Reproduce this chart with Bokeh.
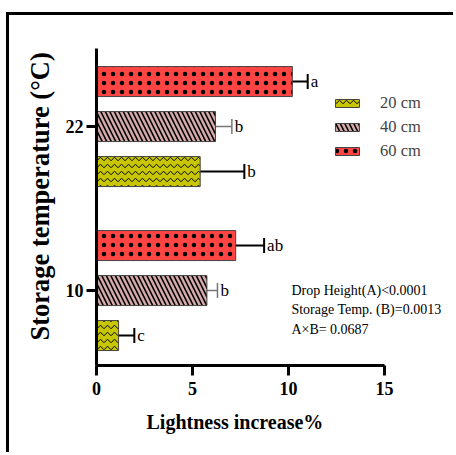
from bokeh.plotting import figure
from bokeh.models import (ColumnDataSource, Whisker, TeeHead, Legend, LegendItem,
                          FixedTicker, Label, Title)
from bokeh.transform import dodge
from bokeh.embed import file_html
from bokeh.resources import INLINE

# ---- data ----
temps = ["10", "22"]
group_pos = [0, 1]
heights = ["20 cm", "40 cm", "60 cm"]
mean_20 = [1.15, 5.4]
err_20 = [0.82, 2.3]
mean_40 = [5.75, 6.2]
err_40 = [0.55, 0.85]
mean_60 = [7.25, 10.2]
err_60 = [1.48, 0.8]
letters_20 = ["c", "b"]
letters_40 = ["b", "b"]
letters_60 = ["ab", "a"]
stats_lines = ["Drop Height(A)<0.0001", "Storage Temp. (B)=0.0013", "A\u00d7B= 0.0687"]
x_ticks = [0, 5, 10, 15]
x_title = "Lightness increase%"
y_title = "Storage temperature (\u00b0C)"

SERIF = "Liberation Serif"

# page offset of the canvas (outer frame drawn by CSS border)
OX, OY = 9, 15

p = figure(width=456 - OX, height=455 - OY, output_backend="svg", toolbar_location=None,
           x_range=(0, 18.75), y_range=(-0.457, 1.476),
           min_border_left=96 - OX, min_border_right=0, min_border_top=48 - OY,
           min_border_bottom=90)
p.styles = {"margin-left": "6px", "margin-top": "12px",
            "border-left": "3px solid black", "border-top": "3px solid black"}
p.outline_line_color = None
p.grid.grid_line_color = None
p.background_fill_color = "white"
p.border_fill_color = "white"

styles = {
    "20 cm": dict(mean=mean_20, err=err_20, letters=letters_20, off=-0.2744,
                  color="#c8c600", hatch="v", hscale=7, hweight=1.0, ecolor="black", ewidth=2),
    "40 cm": dict(mean=mean_40, err=err_40, letters=letters_40, off=0.0,
                  color="#d6aaaa", hatch="\\", hscale=9, hweight=1.6, ecolor="#777777", ewidth=1.5),
    "60 cm": dict(mean=mean_60, err=err_60, letters=letters_60, off=0.2744,
                  color="#ff4444", hatch=".", hscale=9, hweight=1.6, ecolor="black", ewidth=2),
}

items = []
for name in heights:
    s = styles[name]
    src = ColumnDataSource(dict(
        g=group_pos, mean=s["mean"],
        lower=[m - e for m, e in zip(s["mean"], s["err"])],
        upper=[m + e for m, e in zip(s["mean"], s["err"])],
        letter=s["letters"]))
    ydodge = dodge("g", s["off"], range=p.y_range)
    r = p.hbar(y=ydodge, right="mean", left=0, height=0.183, source=src,
               fill_color=s["color"], line_color="#444444", line_width=1,
               hatch_pattern=s["hatch"], hatch_color="black", hatch_scale=s["hscale"],
               hatch_weight=s["hweight"])
    items.append(LegendItem(label=name, renderers=[r]))
    w = Whisker(base=ydodge, lower="lower", upper="upper", dimension="width", source=src,
                line_color=s["ecolor"], line_width=s["ewidth"],
                upper_head=TeeHead(size=15, line_color=s["ecolor"], line_width=s["ewidth"]),
                lower_head=TeeHead(size=15, line_color=s["ecolor"], line_width=s["ewidth"]))
    p.add_layout(w)
    p.text(x="upper", y=ydodge, text="letter", source=src, x_offset=3,
           text_font=SERIF, text_font_size="17px", text_baseline="middle",
           text_align="left", text_color="black")

legend = Legend(items=items, location=(236, 204), orientation="vertical",
                glyph_width=30, glyph_height=10, label_height=20, spacing=4,
                label_standoff=18, padding=0, margin=0,
                border_line_color=None, background_fill_alpha=0,
                label_text_font=SERIF, label_text_font_size="16.5px")
p.add_layout(legend, "center")

for i, t in enumerate(stats_lines):
    p.add_layout(Label(x=10.15, y=0.0 - 0.118 * i, text=t, text_font=SERIF,
                       text_font_size="14px", text_baseline="middle", text_color="black"))

# axes
xa = p.xaxis[0]
xa.ticker = FixedTicker(ticks=x_ticks)
xa.bounds = (0, 15)
ya = p.yaxis[0]
ya.ticker = FixedTicker(ticks=group_pos)
ya.major_label_overrides = {gp: t for gp, t in zip(group_pos, temps)}
for ax in (xa, ya):
    ax.axis_line_width = 3
    ax.axis_line_color = "black"
    ax.major_tick_line_width = 3
    ax.major_tick_line_color = "black"
    ax.major_tick_out = 10
    ax.major_tick_in = 0
    ax.minor_tick_line_color = None
    ax.major_label_text_font = SERIF
    ax.major_label_text_font_style = "bold"
    ax.major_label_text_font_size = "18px"
    ax.major_label_text_color = "black"
xa.major_label_standoff = 6
ya.major_label_standoff = 3
ya.major_label_orientation = "horizontal"

# axis titles as side titles, so they can be placed relative to the drawn axes
p.add_layout(Title(text=x_title, align="left", offset=50, standoff=22,
                   text_font=SERIF, text_font_style="bold", text_font_size="20px",
                   text_color="black"), "below")
p.add_layout(Title(text=y_title, align="left", offset=25, standoff=15,
                   text_font=SERIF, text_font_style="bold", text_font_size="26.5px",
                   text_color="black"), "left")

open("out.html", "w").write(file_html(p, INLINE))
